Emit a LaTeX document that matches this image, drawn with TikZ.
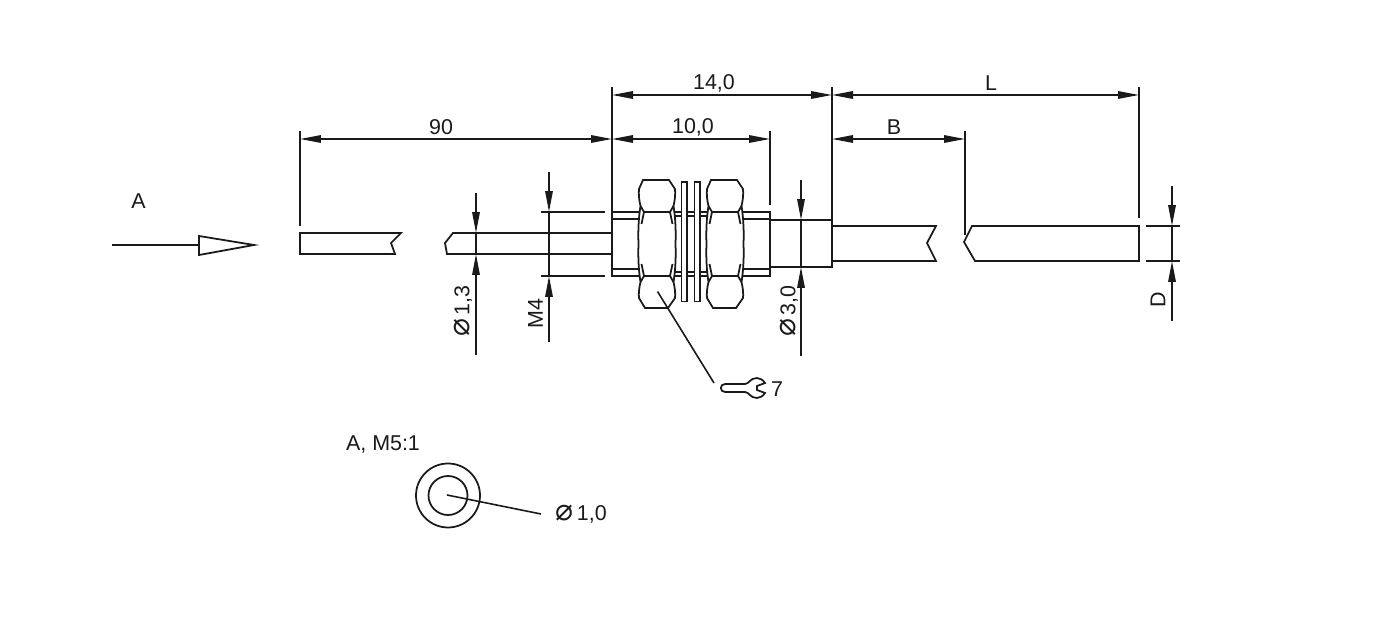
\documentclass[tikz,border=0pt]{standalone}
\usepackage{fontspec}
\setmainfont{Liberation Sans}
\newfontfamily\dsym{DejaVu Sans}
\usetikzlibrary{arrows.meta}
\definecolor{ink}{HTML}{1A1A1A}
\newcommand{\dia}{{\dsym\fontsize{17pt}{17pt}\selectfont ⌀}}
\tikzset{
  part/.style={line width=1pt,line join=miter,draw=ink},
  dimline/.style={line width=0.9pt,draw=ink},
  both/.style={dimline,{Triangle[length=0.42cm,width=0.15cm]}-{Triangle[length=0.42cm,width=0.15cm]}},
  oneway/.style={dimline,-{Triangle[length=0.42cm,width=0.15cm]}},
  lab/.style={font=\fontsize{12.2pt}{14pt}\selectfont,inner sep=0pt,text=ink},
}
\begin{document}
\begin{tikzpicture}[x=0.02cm,y=-0.02cm]
\useasboundingbox (0,0) rectangle (1380,631);
\fill[white] (0,0) rectangle (1380,631);
% view arrow
\draw[part] (112,245) -- (199,245);
\draw[part] (199,236) -- (254,245) -- (199,255) -- cycle;
% fibre
\draw[part] (401,233) -- (300,233) -- (300,254) -- (395,254) -- (391,243) -- cycle;
\draw[part] (612,233) -- (453,233) -- (445,243) -- (447,254) -- (612,254);
% cable
\draw[part] (832,226) -- (936,226) -- (927,243) -- (936,261) -- (832,261);
\draw[part] (1139,226) -- (972,226) -- (964,242) -- (975,261) -- (1139,261) -- cycle;
% housing
\draw[part] (612,212) rectangle (770,276);
\draw[part] (612,219) -- (640,219) (612,269) -- (640,269) (742,219) -- (770,219) (742,269) -- (770,269);
\draw[part] (675,216) -- (707,216) (675,272) -- (707,272);
\draw[part] (770,220) -- (832,220) -- (832,267) -- (770,267);
% plates
\foreach \x in {681.5,694.5}{\draw[part,fill=white] (\x,182) rectangle (\x+5.5,301.5);}
% nuts
\foreach \o in {0,68}{
\begin{scope}[xshift=\o*0.02cm]
\draw[part,fill=white] (643,180) -- (669,180) -- (675,189) .. controls (675.5,194) and (675,200) .. (673.5,206)
  .. controls (675.5,218) and (676,232) .. (675.5,244) .. controls (676,256) and (675.5,270) .. (673.5,282)
  .. controls (675,288) and (675.5,294) .. (675,298) -- (668,308) -- (645,308) -- (639,298)
  .. controls (638.5,294) and (639,288) .. (640.5,282)
  .. controls (638.5,270) and (638,256) .. (638.5,244) .. controls (638,232) and (638.5,218) .. (640.5,206)
  .. controls (639,200) and (638.5,194) .. (639,189) -- cycle;
\draw[part] (640.5,206) -- (644,212) -- (670,212) -- (673.5,206);
\draw[part] (640.5,282) -- (644,276) -- (670,276) -- (673.5,282);
\draw[part] (644,212) -- (641.5,224) (670,212) -- (672.5,224);
\draw[part] (644,276) -- (641.5,264) (670,276) -- (672.5,264);
\end{scope}}
% extension lines
\draw[dimline] (300,131) -- (300,226);
\draw[dimline] (612,87) -- (612,212);
\draw[dimline] (832,87) -- (832,220);
\draw[dimline] (770,131) -- (770,205);
\draw[dimline] (965,131) -- (965,235);
\draw[dimline] (1139,87) -- (1139,218);
\draw[dimline] (541,212) -- (605,212) (541,276) -- (605,276);
\draw[dimline] (1146,226) -- (1180,226) (1146,261) -- (1180,261);
% horizontal dimensions
\draw[both] (612,95) -- (832,95);
\draw[both] (832,95) -- (1139,95);
\draw[both] (300,139) -- (612,139);
\draw[both] (612,139) -- (770,139);
\draw[both] (832,139) -- (965,139);
% vertical dimensions
\draw[oneway] (476,193) -- (476,233);
\draw[oneway] (476,355) -- (476,254);
\draw[dimline] (476,233) -- (476,254);
\draw[oneway] (549,172) -- (549,212);
\draw[oneway] (549,342) -- (549,276);
\draw[dimline] (549,212) -- (549,276);
\draw[oneway] (801,180) -- (801,220);
\draw[oneway] (801,356) -- (801,267);
\draw[dimline] (801,220) -- (801,267);
\draw[oneway] (1172,186) -- (1172,226);
\draw[oneway] (1172,321) -- (1172,261);
\draw[dimline] (1172,226) -- (1172,261);
% wrench leader and wrench
\draw[dimline] (657.5,291.5) -- (714,383);
\draw[part] (725,384) -- (745,384) .. controls (749,384) and (750,378) .. (757,378)
  .. controls (760,378) and (763,380) .. (765,383) -- (757,386) -- (757,390) -- (765,393)
  .. controls (763,396) and (760,398) .. (757,398) .. controls (750,398) and (749,392) .. (745,392)
  -- (725,392) .. controls (719.5,392) and (719.5,384) .. (725,384) -- cycle;
% section view
\draw[part] (448,495.5) circle[radius=0.64cm];
\draw[part] (448,495.5) circle[radius=0.39cm];
\draw[dimline] (447,495) -- (541,514);
% labels
\node[lab] (tA) at (138.5,201.5) {A};
\node[lab] (t90) at (441,127) {90};
\node[lab] (t14) at (714,83) {14,0};
\node[lab] (t10) at (693,127.5) {10,0};
\node[lab] (tL) at (991,83) {L};
\node[lab] (tB) at (894,127) {B};
\node[lab,rotate=90] (t13) at (463,311) {\dia\,1,3};
\node[lab,rotate=90] (tM4) at (535.5,313.5) {M4};
\node[lab,rotate=90] (t30) at (789,311) {\dia\,3,0};
\node[lab,rotate=90] (tD) at (1158,300) {D};
\node[lab] (t7) at (777,389) {7};
\node[lab] (tM5) at (383,444) {A, M5:1};
\node[lab] (t1) at (581,514) {\dia\,1,0};
\end{tikzpicture}
\end{document}
